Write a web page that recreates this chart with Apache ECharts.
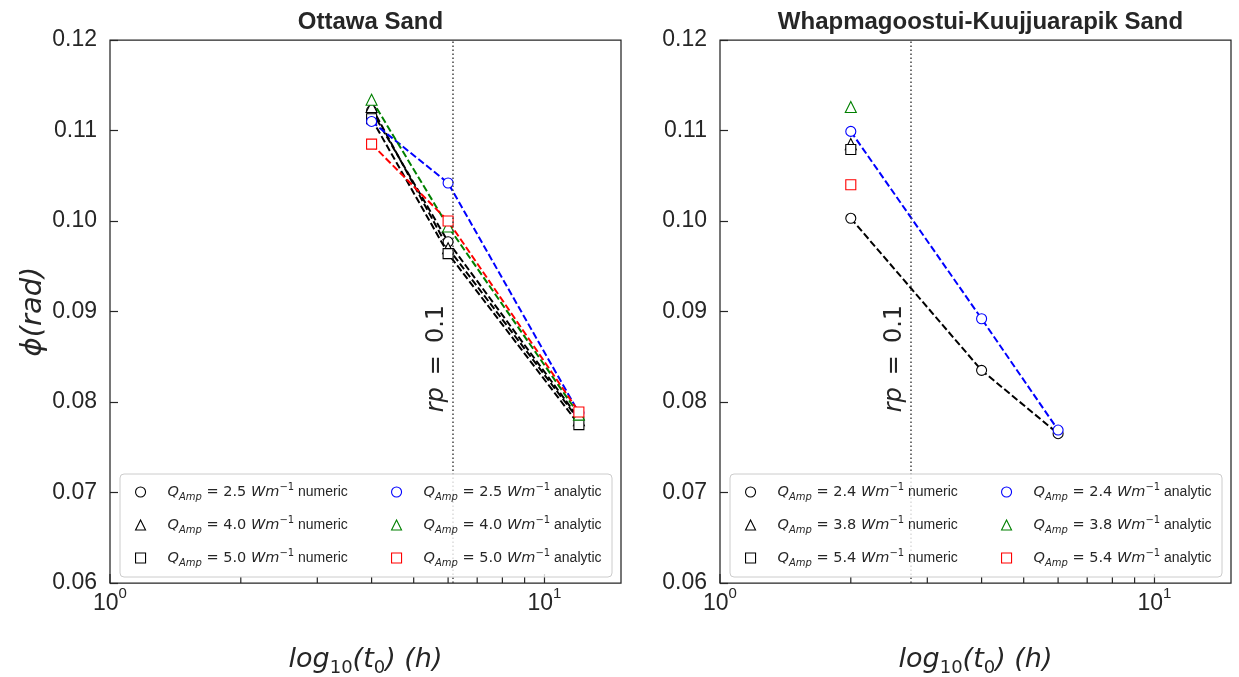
<!DOCTYPE html>
<html><head><meta charset="utf-8">
<script src="https://cdn.jsdelivr.net/npm/echarts@6/dist/echarts.min.js"></script>
<style>html,body{margin:0;padding:0;background:#fff}#c{width:1239px;height:677px}</style>
</head><body><div id="c"></div>
<script>
// ---------------- data ----------------
const yRange = [0.06, 0.12];
const yStep = 0.01;
const xRange = [1, 15];
const xMajorTicks = [1, 10];
const xMinorTicks = [2, 3, 4, 5, 6, 7, 8, 9];

const titles = ['Ottawa Sand', 'Whapmagoostui-Kuujjuarapik Sand'];

// Ottawa Sand
const ottawaX = [4, 6, 12];
const ottawaQ = ['2.5', '4.0', '5.0'];
const ottawaNumCircle   = [0.1122, 0.0977, 0.0782];
const ottawaNumTriangle = [0.1126, 0.0970, 0.0780];
const ottawaNumSquare   = [0.1113, 0.0964, 0.0775];
const ottawaAnaCircle   = [0.1110, 0.1042, 0.0788];
const ottawaAnaTriangle = [0.1134, 0.0994, 0.0786];
const ottawaAnaSquare   = [0.1085, 0.1000, 0.0789];
const ottawaRp = 6.15;

// Whapmagoostui-Kuujjuarapik Sand
const whX = [2, 4, 6];
const whSingleX = [2];
const whQ = ['2.4', '3.8', '5.4'];
const whNumCircle   = [0.1003, 0.0835, 0.0765];
const whNumTriangle = [0.1085];
const whNumSquare   = [0.1079];
const whAnaCircle   = [0.1099, 0.0892, 0.0769];
const whAnaTriangle = [0.1126];
const whAnaSquare   = [0.1040];
const whRp = 2.75;

// ---------------- styling / layout ----------------
const INK = '#262626';
const FONT = "'Liberation Sans', Arial, sans-serif";
const MATH = "'DejaVu Sans', sans-serif";
const grids = [
  {left: 110, top: 40, width: 511, height: 543},
  {left: 720, top: 40, width: 511, height: 543}
];
const shapes = ['circle', 'triangle', 'rect'];
const anaColors = ['#0000ff', '#008000', '#ff0000'];
const symSize = {circle: 10, triangle: 11, rect: 10};

function sname(q, kind) { return 'Q_Amp = ' + q + ' Wm^-1 ' + kind; }

function lineSeries(name, xs, ys, shape, color, gi, z) {
  return {
    type: 'line', name: name, xAxisIndex: gi, yAxisIndex: gi,
    data: xs.map((x, i) => [x, ys[i]]),
    symbol: shape, symbolSize: symSize[shape], showSymbol: true,
    lineStyle: {color: color, width: 2, type: [7, 3]},
    itemStyle: {color: '#fff', borderColor: color, borderWidth: 1.1},
    emphasis: {disabled: true}, animation: false, z: z, clip: false
  };
}

function tickSeries(gi, vals, len) {
  return {
    type: 'custom', xAxisIndex: gi, yAxisIndex: gi, silent: true, z: 6, animation: false,
    data: vals.map(v => [v, yRange[0]]),
    renderItem: function (p, api) {
      const pt = api.coord([api.value(0), api.value(1)]);
      return {type: 'line', shape: {x1: pt[0], y1: pt[1], x2: pt[0], y2: pt[1] - len},
        style: {stroke: INK, lineWidth: 1.2}};
    }
  };
}

const series = [];
// Ottawa
const ottNum = [ottawaNumCircle, ottawaNumTriangle, ottawaNumSquare];
const ottAna = [ottawaAnaCircle, ottawaAnaTriangle, ottawaAnaSquare];
for (let i = 0; i < 3; i++) series.push(lineSeries(sname(ottawaQ[i], 'numeric'), ottawaX, ottNum[i], shapes[i], '#000', 0, 3));
for (let i = 0; i < 3; i++) series.push(lineSeries(sname(ottawaQ[i], 'analytic'), ottawaX, ottAna[i], shapes[i], anaColors[i], 0, 4));
// WK
const whNum = [[whX, whNumCircle], [whSingleX, whNumTriangle], [whSingleX, whNumSquare]];
const whAna = [[whX, whAnaCircle], [whSingleX, whAnaTriangle], [whSingleX, whAnaSquare]];
for (let i = 0; i < 3; i++) series.push(lineSeries(sname(whQ[i], 'numeric'), whNum[i][0], whNum[i][1], shapes[i], '#000', 1, 3));
for (let i = 0; i < 3; i++) series.push(lineSeries(sname(whQ[i], 'analytic'), whAna[i][0], whAna[i][1], shapes[i], anaColors[i], 1, 4));

// rp reference lines
[ottawaRp, whRp].forEach((rp, gi) => {
  series.push({
    type: 'line', xAxisIndex: gi, yAxisIndex: gi, data: [], silent: true, z: 2,
    markLine: {silent: true, symbol: 'none', animation: false, label: {show: false},
      lineStyle: {type: [1.5, 2.5], color: '#444', width: 1.5},
      data: [{xAxis: rp}]}
  });
});
// x ticks
[0, 1].forEach(gi => {
  series.push(tickSeries(gi, xMinorTicks, 6));
  series.push(tickSeries(gi, xMajorTicks, 9));
});

const legendRich = {
  q: {fontFamily: MATH, fontStyle: 'italic', fontSize: 14.5, color: INK, lineHeight: 20},
  sub: {fontFamily: MATH, fontStyle: 'italic', fontSize: 10, color: INK, lineHeight: 9, verticalAlign: 'bottom'},
  t: {fontFamily: MATH, fontSize: 14.5, color: INK, lineHeight: 20},
  sup: {fontFamily: MATH, fontSize: 10, color: INK, lineHeight: 9, verticalAlign: 'top'},
  w: {fontFamily: FONT, fontSize: 14, color: INK, lineHeight: 20}
};
function legendFmt(name) {
  const m = name.match(/= ([\d.]+) Wm\^-1 (\w+)/);
  return '{q|Q}{sub|Amp}{t| = ' + m[1] + ' }{q|Wm}{sup|\u22121}{w| ' + m[2] + '}';
}
function legend(qs, kind, colors, left) {
  return {
    orient: 'vertical', left: left, top: 482, itemWidth: 10, itemHeight: 10, itemGap: 13,
    selectedMode: false, z: 8, padding: 0,
    data: qs.map((q, i) => ({name: sname(q, kind), icon: shapes[i],
      itemStyle: {color: '#fff', borderColor: colors[i], borderWidth: 1.1}})),
    formatter: legendFmt, textStyle: {rich: legendRich, color: INK, padding: [0, 0, 0, 17]}
  };
}

const xAxisBase = gi => ({
  type: 'log', logBase: 10, gridIndex: gi, min: xRange[0], max: xRange[1],
  axisLine: {show: false}, axisTick: {show: false}, splitLine: {show: false},
  axisLabel: {
    margin: 3, color: INK,
    formatter: v => {
      const e = Math.log10(v);
      if (Math.abs(e - Math.round(e)) < 1e-6 && xMajorTicks.indexOf(Math.round(v)) >= 0) return '{b|10}{s|' + Math.round(e) + '}';
      return '';
    },
    rich: {
      b: {fontFamily: FONT, fontSize: 23, color: INK, lineHeight: 36},
      s: {fontFamily: FONT, fontSize: 15, color: INK, lineHeight: 10, verticalAlign: 'top'}
    }
  },
  name: '{i|log}{d|10}{i|(t}{d|0}{i|) (h)}', nameLocation: 'middle', nameGap: 60,
  nameTextStyle: {rich: {
    i: {fontFamily: MATH, fontStyle: 'italic', fontSize: 27, color: INK, lineHeight: 34},
    d: {fontFamily: MATH, fontSize: 18, color: INK, lineHeight: 16, verticalAlign: 'bottom'}
  }}
});
const yAxisBase = gi => ({
  type: 'value', gridIndex: gi, min: yRange[0], max: yRange[1], interval: yStep,
  axisLine: {show: false}, splitLine: {show: false},
  axisTick: {show: true, inside: true, length: 8, lineStyle: {color: INK, width: 1.2}},
  axisLabel: {formatter: v => v.toFixed(2), fontFamily: FONT, fontSize: 23, color: INK, margin: 13}
});

const yAxes = [yAxisBase(0), yAxisBase(1)];
yAxes[0].name = '\u03d5(rad)';
yAxes[0].nameLocation = 'middle';
yAxes[0].nameGap = 58;
yAxes[0].nameTextStyle = {fontFamily: MATH, fontStyle: 'italic', fontSize: 29, color: INK};

const chart = echarts.init(document.getElementById('c'), null, {renderer: 'canvas'});
chart.setOption({
  animation: false,
  backgroundColor: '#fff',
  title: titles.map((t, gi) => ({
    text: t, left: grids[gi].left + grids[gi].width / 2, top: 5, textAlign: 'center',
    textStyle: {fontFamily: FONT, fontWeight: 'bold', fontSize: 24, color: INK}
  })),
  grid: grids.map(g => Object.assign({show: true, borderColor: INK, borderWidth: 1.25, backgroundColor: 'transparent',
    containLabel: false, outerBoundsMode: 'none'}, g)),
  xAxis: [xAxisBase(0), xAxisBase(1)],
  yAxis: yAxes,
  legend: [
    legend(ottawaQ, 'numeric', ['#000', '#000', '#000'], grids[0].left + 25),
    legend(ottawaQ, 'analytic', anaColors, grids[0].left + 281),
    legend(whQ, 'numeric', ['#000', '#000', '#000'], grids[1].left + 25),
    legend(whQ, 'analytic', anaColors, grids[1].left + 281)
  ],
  series: series
});

// legend frames and rp annotations
const graphics = [];
grids.forEach((g, gi) => {
  graphics.push({type: 'rect', z: 7, shape: {x: g.left + 10, y: 474, width: 492, height: 103, r: 4},
    style: {fill: 'rgba(255,255,255,0.8)', stroke: '#cccccc', lineWidth: 1}});
  const rp = gi === 0 ? ottawaRp : whRp;
  const p = chart.convertToPixel({xAxisIndex: gi, yAxisIndex: gi}, [rp, 0.0848]);
  graphics.push({type: 'text', z: 7, x: p[0] - 16, y: p[1], rotation: Math.PI / 2,
    style: {text: '{i|rp}{n|\u2002=\u20020.1}', align: 'center', verticalAlign: 'middle',
      rich: {i: {fontFamily: MATH, fontStyle: 'italic', fontSize: 24, fill: INK},
             n: {fontFamily: MATH, fontSize: 24, fill: INK}}}});
});
chart.setOption({graphic: graphics});
</script></body></html>
